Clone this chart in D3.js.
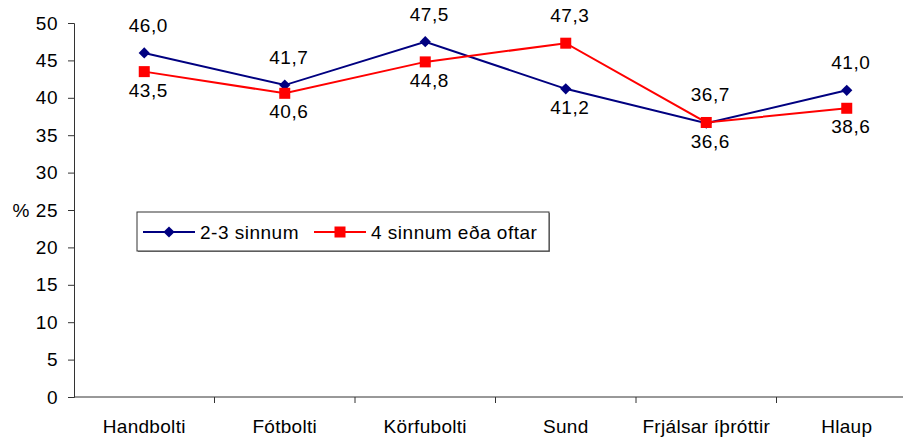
<!DOCTYPE html>
<html>
<head>
<meta charset="utf-8">
<script src="https://cdn.jsdelivr.net/npm/d3@7"></script>
<style>
  body { margin: 0; background: #fff; }
  svg text { font-family: "Liberation Sans", Arial, sans-serif; fill: #000; }
</style>
</head>
<body>
<svg id="chart"></svg>
<script>
// Categories and series values
const categories = ['Handbolti', 'Fótbolti', 'Körfubolti', 'Sund', 'Frjálsar íþróttir', 'Hlaup'];
const series23 = [46.0, 41.7, 47.5, 41.2, 36.6, 41.0];     // 2-3 sinnum
const series4 = [43.5, 40.6, 44.8, 47.3, 36.7, 38.6];      // 4 sinnum eða oftar
const yTicks = [0, 5, 10, 15, 20, 25, 30, 35, 40, 45, 50];
const seriesNames = ['2-3 sinnum', '4 sinnum eða oftar'];

const width = 903, height = 438;
const margin = { left: 74, top: 23, bottom: 41 };
const plotRight = 917; // plot area runs past the right edge in the original

const svg = d3.select('#chart').attr('width', width).attr('height', height);

const x = d3.scaleBand().domain(categories).range([margin.left, plotRight]);
const y = d3.scaleLinear().domain([0, 50]).range([height - margin.bottom, margin.top]);

const fmt = v => d3.format('.1f')(v).replace('.', ',');

// Y axis
const yAxis = svg.append('g')
  .attr('transform', `translate(${margin.left},0)`)
  .call(d3.axisLeft(y).tickValues(yTicks).tickSize(6).tickPadding(10).tickFormat(d => d));
yAxis.selectAll('path, line').attr('stroke', '#333');
yAxis.selectAll('text').style('font-size', '19px').style('letter-spacing', '0.5px');

// X axis: ticks on category boundaries
const xAxisG = svg.append('g').attr('transform', `translate(0,${y(0)})`);
xAxisG.append('line')
  .attr('x1', margin.left).attr('x2', plotRight)
  .attr('stroke', '#333');
xAxisG.selectAll('line.tick')
  .data(categories.slice(1))
  .enter().append('line')
  .attr('class', 'tick')
  .attr('x1', d => x(d)).attr('x2', d => x(d))
  .attr('y1', 0).attr('y2', 6)
  .attr('stroke', '#333');
xAxisG.selectAll('text')
  .data(categories)
  .enter().append('text')
  .attr('x', d => x(d) + x.bandwidth() / 2)
  .attr('y', 36)
  .attr('text-anchor', 'middle')
  .style('font-size', '19px')
  .style('letter-spacing', '0.3px')
  .text(d => d);

// % label
svg.append('text')
  .attr('x', 21).attr('y', y(25))
  .attr('dy', '0.35em')
  .attr('text-anchor', 'middle')
  .style('font-size', '19px')
  .text('%');

const cx = d => x(d) + x.bandwidth() / 2;
const line = d3.line().x(d => cx(d.cat)).y(d => y(d.v));

const data23 = categories.map((c, i) => ({ cat: c, v: series23[i], other: series4[i] }));
const data4 = categories.map((c, i) => ({ cat: c, v: series4[i], other: series23[i] }));

const diamond = d3.symbol().type(d3.symbolDiamond2).size(80);

function drawSeries(data, color, marker) {
  svg.append('path')
    .datum(data)
    .attr('fill', 'none')
    .attr('stroke', color)
    .attr('stroke-width', 2)
    .attr('d', line);

  const g = svg.append('g');
  if (marker === 'diamond') {
    g.selectAll('path')
      .data(data)
      .enter().append('path')
      .attr('d', diamond)
      .attr('transform', d => `translate(${cx(d.cat)},${y(d.v)})`)
      .attr('fill', color);
  } else {
    g.selectAll('rect')
      .data(data)
      .enter().append('rect')
      .attr('x', d => cx(d.cat) - 5.5)
      .attr('y', d => y(d.v) - 5.5)
      .attr('width', 11).attr('height', 11)
      .attr('fill', color);
  }

  // value labels: higher point labelled above, lower below
  svg.append('g').selectAll('text')
    .data(data)
    .enter().append('text')
    .attr('x', d => cx(d.cat) + 4)
    .attr('y', d => d.v >= d.other ? y(d.v) - 21 : y(d.v) + 25)
    .attr('text-anchor', 'middle')
    .style('font-size', '19px')
    .style('letter-spacing', '0.5px')
    .text(d => fmt(d.v));
}

drawSeries(data23, '#000080', 'diamond');
drawSeries(data4, '#ff0000', 'square');

// Legend
const legend = svg.append('g').attr('transform', 'translate(137,212)');
legend.append('rect')
  .attr('x', 1).attr('y', 1)
  .attr('width', 412).attr('height', 39)
  .attr('fill', '#888');
legend.append('rect')
  .attr('width', 412).attr('height', 39)
  .attr('fill', '#fff')
  .attr('stroke', '#333');

const legendItems = [
  { name: seriesNames[0], color: '#000080', marker: 'diamond', x0: 6 },
  { name: seriesNames[1], color: '#ff0000', marker: 'square', x0: 177 }
];
legendItems.forEach(it => {
  const g = legend.append('g').attr('transform', `translate(${it.x0},20)`);
  g.append('line').attr('x1', 0).attr('x2', 52).attr('stroke', it.color).attr('stroke-width', 2);
  if (it.marker === 'diamond') {
    g.append('path').attr('d', diamond).attr('transform', 'translate(26,0)').attr('fill', it.color);
  } else {
    g.append('rect').attr('x', 20.5).attr('y', -5.5).attr('width', 11).attr('height', 11).attr('fill', it.color);
  }
  g.append('text')
    .attr('x', 57).attr('y', 0)
    .attr('dy', '0.35em')
    .style('font-size', '19px')
    .style('letter-spacing', '0.5px')
    .text(it.name);
});
</script>
</body>
</html>
